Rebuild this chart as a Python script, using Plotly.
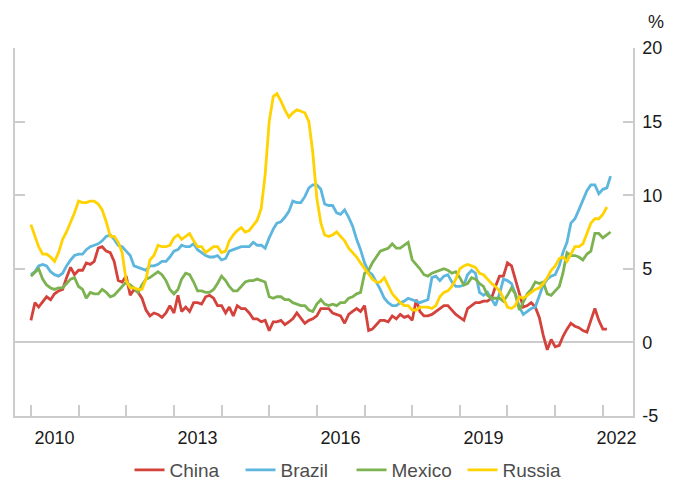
import pandas as pd
import plotly.graph_objects as go

# Consumer price inflation, year on year, monthly from Jan 2010
china = [
    1.5, 2.7, 2.4, 2.8, 3.1, 2.9, 3.3, 3.5, 3.6, 4.4, 5.1, 4.6,
    4.9, 4.9, 5.4, 5.3, 5.5, 6.4, 6.5, 6.2, 6.1, 5.5, 4.2, 4.1,
    4.5, 3.2, 3.6, 3.4, 3.0, 2.2, 1.8, 2.0, 1.9, 1.7, 2.0, 2.5,
    2.0, 3.2, 2.1, 2.4, 2.1, 2.7, 2.7, 2.6, 3.1, 3.2, 3.0, 2.5,
    2.5, 2.0, 2.4, 1.8, 2.5, 2.3, 2.3, 2.0, 1.6, 1.6, 1.4, 1.5,
    0.8, 1.4, 1.4, 1.5, 1.2, 1.4, 1.6, 2.0, 1.6, 1.3, 1.5, 1.6,
    1.8, 2.3, 2.3, 2.3, 2.0, 1.9, 1.8, 1.3, 1.9, 2.1, 2.3, 2.1,
    2.5, 0.8, 0.9, 1.2, 1.5, 1.5, 1.4, 1.8, 1.6, 1.9, 1.7, 1.8,
    1.5, 2.9, 2.1, 1.8, 1.8, 1.9, 2.1, 2.3, 2.5, 2.5, 2.2, 1.9,
    1.7, 1.5, 2.3, 2.5, 2.7, 2.7, 2.8, 2.8, 3.0, 3.8, 4.5, 4.5,
    5.4, 5.2, 4.3, 3.3, 2.4, 2.5, 2.7, 2.4, 1.7, 0.5, -0.5, 0.2,
    -0.3, -0.2, 0.4, 0.9, 1.3, 1.1, 1.0, 0.8, 0.7, 1.5, 2.3, 1.5,
    0.9, 0.9,
]
brazil = [
    4.6, 4.8, 5.2, 5.3, 5.2, 4.8, 4.6, 4.5, 4.7, 5.2, 5.6, 5.9,
    6.0, 6.0, 6.3, 6.5, 6.6, 6.7, 6.9, 7.2, 7.3, 7.0, 6.6, 6.5,
    6.2, 5.9, 5.2, 5.1, 5.0, 4.9, 5.2, 5.2, 5.3, 5.5, 5.5, 5.8,
    6.2, 6.3, 6.6, 6.5, 6.5, 6.7, 6.3, 6.1, 5.9, 5.8, 5.8, 5.9,
    5.6, 5.7, 6.2, 6.3, 6.4, 6.5, 6.5, 6.5, 6.8, 6.6, 6.6, 6.4,
    7.1, 7.7, 8.1, 8.2, 8.5, 8.9, 9.6, 9.5, 9.5, 9.9, 10.5, 10.7,
    10.7, 10.4, 9.4, 9.3, 9.3, 8.8, 8.7, 9.0, 8.5, 7.9, 7.0, 6.3,
    5.4, 4.8, 4.6, 4.1, 3.6, 3.0, 2.7, 2.5, 2.5, 2.7, 2.8, 3.0,
    2.9, 2.8, 2.7, 2.8, 2.9, 4.4, 4.5, 4.2, 4.5, 4.6, 4.1, 3.8,
    3.8, 3.9, 4.6, 4.9, 4.7, 3.4, 3.2, 3.4, 2.9, 2.5, 3.3, 4.3,
    4.2, 4.0, 3.3, 2.4, 1.9, 2.1, 2.3, 2.4, 3.1, 3.9, 4.3, 4.5,
    4.6, 5.2, 6.1, 6.8, 8.1, 8.4, 9.0, 9.7, 10.3, 10.7, 10.7, 10.1,
    10.4, 10.5, 11.3,
]
mexico = [
    4.5, 4.8, 5.0, 4.3, 3.9, 3.7, 3.6, 3.7, 3.7, 4.0, 4.3, 4.4,
    3.8, 3.6, 3.0, 3.4, 3.3, 3.3, 3.6, 3.4, 3.1, 3.2, 3.5, 3.8,
    4.1, 3.9, 3.7, 3.4, 3.9, 4.3, 4.4, 4.6, 4.8, 4.6, 4.2, 3.6,
    3.3, 3.6, 4.3, 4.7, 4.6, 4.1, 3.5, 3.5, 3.4, 3.4, 3.6, 4.0,
    4.5, 4.2, 3.8, 3.5, 3.5, 3.8, 4.1, 4.2, 4.2, 4.3, 4.2, 4.1,
    3.1, 3.0, 3.1, 3.1, 2.9, 2.9, 2.7, 2.6, 2.5, 2.5, 2.2, 2.1,
    2.6, 2.9, 2.6, 2.5, 2.6, 2.5, 2.7, 2.7, 3.0, 3.1, 3.3, 3.4,
    4.7, 4.9, 5.4, 5.8, 6.2, 6.3, 6.4, 6.7, 6.4, 6.4, 6.6, 6.8,
    5.6, 5.3, 5.0, 4.6, 4.5, 4.7, 4.8, 4.9, 5.0, 4.9, 4.7, 4.8,
    4.4, 3.9, 4.0, 4.4, 4.3, 4.0, 3.8, 3.2, 3.0, 3.0, 3.0, 2.8,
    3.2, 3.7, 3.3, 2.2, 2.8, 3.3, 3.6, 4.1, 4.0, 4.1, 3.3, 3.2,
    3.5, 3.8, 4.7, 6.1, 5.9, 5.9, 5.8, 5.6, 6.0, 6.2, 7.4, 7.4,
    7.1, 7.3, 7.5,
]
russia = [
    8.0, 7.2, 6.5, 6.0, 6.0, 5.8, 5.5, 6.1, 7.0, 7.5, 8.1, 8.8,
    9.6, 9.5, 9.5, 9.6, 9.6, 9.4, 9.0, 8.2, 7.2, 7.2, 6.8, 6.1,
    4.2, 3.7, 3.7, 3.6, 3.6, 4.3, 5.6, 5.9, 6.6, 6.5, 6.5, 6.6,
    7.1, 7.3, 7.0, 7.2, 7.4, 6.9, 6.5, 6.5, 6.1, 6.3, 6.5, 6.5,
    6.1, 6.2, 6.9, 7.3, 7.6, 7.8, 7.5, 7.6, 8.0, 8.3, 9.1, 11.4,
    15.0, 16.7, 16.9, 16.4, 15.8, 15.3, 15.6, 15.8, 15.7, 15.6, 15.0, 12.9,
    9.8, 8.1, 7.3, 7.2, 7.3, 7.5, 7.2, 6.9, 6.4, 6.1, 5.8, 5.4,
    5.0, 4.6, 4.3, 4.1, 4.1, 4.4, 3.9, 3.3, 3.0, 2.7, 2.5, 2.5,
    2.2, 2.2, 2.4, 2.4, 2.4, 2.3, 2.5, 3.1, 3.4, 3.5, 3.8, 4.3,
    5.0, 5.2, 5.3, 5.2, 5.1, 4.7, 4.6, 4.3, 4.0, 3.8, 3.5, 3.0,
    2.4, 2.3, 2.5, 3.1, 3.0, 3.2, 3.4, 3.6, 3.7, 4.0, 4.4, 4.9,
    5.2, 5.7, 5.8, 5.5, 6.0, 6.5, 6.5, 6.7, 7.4, 8.1, 8.4, 8.4,
    8.7, 9.2,
]

months = pd.date_range("2010-01-01", periods=147, freq="MS")
year_ticks = [f"{y}-01-01" for y in range(2010, 2023)]
label_pos = ["2010-07-01", "2013-07-01", "2016-07-01", "2019-07-01", "2022-04-15"]
label_text = ["2010", "2013", "2016", "2019", "2022"]
y_ticks = [-5, 0, 5, 10, 15, 20]
y_text = ["-5", "0", "5", "10", "15", "20"]

series = [
    ("China", china, "#d4423c"),
    ("Brazil", brazil, "#5cb6de"),
    ("Mexico", mexico, "#7cb24f"),
    ("Russia", russia, "#ffd200"),
]

fig = go.Figure()
for name, vals, col in series:
    fig.add_trace(go.Scatter(
        x=months[:len(vals)], y=vals, name=name, mode="lines",
        line=dict(color=col, width=2.8),
    ))

# carrier for the label-only x axis
fig.add_trace(go.Scatter(
    x=months[:1], y=russia[:1], xaxis="x2", mode="lines",
    line=dict(width=0), showlegend=False, hoverinfo="skip",
))

xrange = ["2009-09-01", "2022-08-20"]
axis_col = "#cccccc"

fig.update_layout(
    width=676, height=481,
    margin=dict(l=15, r=43, t=48, b=65, autoexpand=False),
    paper_bgcolor="white", plot_bgcolor="white",
    font=dict(family="Liberation Sans, Arial, sans-serif", size=18, color="#1a1a1a"),
    showlegend=True,
    legend=dict(
        orientation="h", xref="container", yref="container",
        x=0.52, xanchor="center", y=0.023, yanchor="middle",
        font=dict(size=19, color="#4d4d4d"), itemwidth=30,
        entrywidth=66, entrywidthmode="pixels",
    ),
    xaxis=dict(
        type="date", range=xrange, tickvals=year_ticks, showticklabels=False,
        ticks="inside", ticklen=11, tickcolor=axis_col, tickwidth=1.5,
        showline=True, linecolor=axis_col, linewidth=1.5,
        showgrid=False, zeroline=False, automargin=False,
    ),
    xaxis2=dict(
        type="date", range=xrange, overlaying="x", anchor="y", side="bottom",
        tickvals=label_pos, ticktext=label_text, ticks="", ticklabelstandoff=9,
        showline=False, showgrid=False, zeroline=False, automargin=False,
        tickfont=dict(size=18, color="#1a1a1a"),
    ),
    yaxis=dict(
        range=[-5, 20], tickvals=y_ticks, ticktext=y_text, side="right",
        ticks="inside", ticklen=10, tickcolor=axis_col, tickwidth=1.5,
        showline=True, linecolor=axis_col, linewidth=1.5, mirror="ticks",
        showgrid=False, zeroline=True, zerolinecolor=axis_col, zerolinewidth=1.5,
        ticklabelstandoff=4, tickfont=dict(size=18, color="#1a1a1a"),
        automargin=False,
    ),
    annotations=[dict(
        text="%", xref="paper", yref="paper", x=1.038, y=1.0, yshift=26,
        xanchor="center", yanchor="middle", showarrow=False,
        font=dict(size=18, color="#1a1a1a"),
    )],
)

fig.write_html(
    "out.html",
    config={"displayModeBar": False},
    post_script="document.body.style.margin='0';",
)
